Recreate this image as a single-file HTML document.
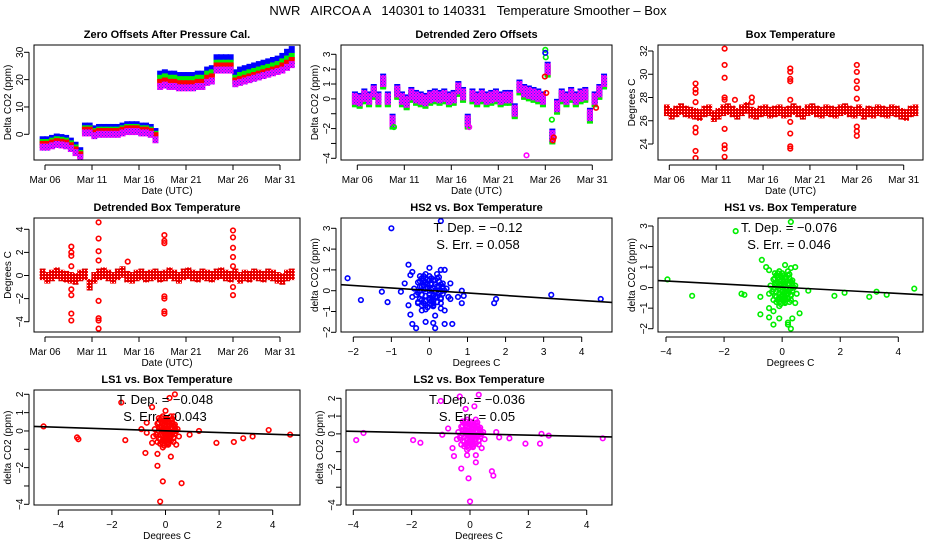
<!DOCTYPE html>
<html><head><meta charset="utf-8">
<style>
html,body{margin:0;padding:0;background:#fff;}
svg{display:block;font-family:"Liberation Sans",Arial,sans-serif;}
</style></head>
<body>
<svg id="chart" width="936" height="540" viewBox="0 0 936 540" xmlns="http://www.w3.org/2000/svg">
<defs>
<pattern id="magpat" width="3" height="3" patternUnits="userSpaceOnUse"><rect width="3" height="3" fill="#ff00ff"/><rect width="1" height="1" fill="#3030ff"/><rect x="1.5" y="1.5" width="1" height="1" fill="#3030ff"/></pattern>
<pattern id="redpat" width="3" height="3" patternUnits="userSpaceOnUse"><rect width="3" height="3" fill="#ff0000"/><rect width="1" height="1" fill="#ffffff"/><rect x="1.5" y="1.5" width="1" height="1" fill="#600000"/></pattern>
</defs>
<text x="468" y="15" font-size="13" text-anchor="middle" xml:space="preserve">NWR   AIRCOA A   140301 to 140331   Temperature Smoother – Box</text>
</svg>
<script>
// ---------- data ----------
const days = [5.75,6.25,6.75,7.25,7.75,8.25,8.75,9.25,9.75,10.25,10.75,11.25,11.75,12.25,12.75,13.25,13.75,14.25,14.75,15.25,15.75,16.25,16.75,17.25,17.75,18.25,18.75,19.25,19.75,20.25,20.75,21.25,21.75,22.25,22.75,23.25,23.75,24.25,24.75,25.25,25.75,26.25,26.75,27.25,27.75,28.25,28.75,29.25,29.75,30.25,30.75,31.25,31.75,32.25];
const dateTicks = [6,11,16,21,26,31];
const dateTickLabels = ["Mar 06","Mar 11","Mar 16","Mar 21","Mar 26","Mar 31"];

const zeroBlue = [-2,-2,-1.5,-1,-1.2,-1.5,-2.5,-4,-6, 3,3,2,2.5,2.5,2.5,2.5,2.5,3,3.5,3.5,3.5,3,3,2.5,1, 22,22.5,22,22,21.5,21.5,21.5,21.5,22,22,23.5,24, 28,28,28,28, 22.5,23.5,24,24.5,25,25.5,26,26.5,27,27.5,28.5,30,31];
const zeroGreen = [-3,-3,-2.5,-2,-2.2,-2.5,-3.5,-5,-7, 2,2,1,1.5,1.5,1.5,1.5,1.5,2,2.5,2.5,2.5,2,2,1.5,0, 20.5,21,20.5,20.5,20,20,20,20,20.5,20.5,22,22.5, 26,26,26,26, 20.5,21.5,22,22.5,23,23.5,24,24.5,25,25.5,26.5,27.5,28.5];
const zeroRed = [-3.7,-3.7,-3.2,-2.7,-2.9,-3.2,-4.2,-5.7,-7.5, 1.5,1.5,0.5,1,1,1,1,1,1.5,2,2,2,1.5,1.5,1,-0.5, 19,19.5,19,19,18.5,18.5,18.5,18.5,19,19,20.5,21, 25,25,25,25, 19.5,20,20.5,21,21.5,22,22.5,23,23.5,24,25,26,27];
const zeroMag = [-4.7,-4.7,-4.2,-3.7,-3.9,-4.2,-5.2,-6.7,-8.5, 0.5,0.5,-0.5,0,0,0,0,0,0.5,1,1,1,0.5,0.5,0,-2, 17.5,18,17.5,17.5,17,17,17,17,17.5,17.5,19,19.5, 23.5,23.5,23.5,23.5, 18.5,19,19.5,20,20.5,21,21.5,22,22.5,23,23.5,24.5,25.5];

const detMag = [0,-0.1,0.2,0,0.5,0,1.2,0,-1.5,0.5,0,-0.2,0.3,0.1,0,-0.1,0.1,0.2,0.1,0.2,0,0.1,0.7,0.3,-1.5,0.2,0,0.2,0,0.1,0.2,0,0.1,0.1,-0.8,0.8,0.5,0.4,0.3,0.2,0,2,-2.5,-0.5,0.2,0,0.3,0,0.2,0.3,-1.1,0,0.5,1.2];
const detSpikeDay = [26.0,26.05,25.95,26.7,26.8,26.9,24.0,26.1,31.4,9.9,17.9,26.0];
const detSpikeVal = [3.3,2.8,1.5,-1.4,-2.8,-2.6,-3.8,0.4,-0.6,-1.9,-1.9,3.1];
const detSpikeColor = ["#00ee00","#00ee00","#ff0000","#00ee00","#ff0000","#ff0000","#ff00ff","#ff0000","#ff0000","#00ee00","#ff00ff","#0000ff"];

const boxTemp = [26.9,26.6,26.8,27.0,26.8,26.7,26.6,26.5,26.8,26.9,26.4,26.6,26.9,27.0,26.8,26.6,26.9,27.1,26.7,26.6,26.8,26.9,26.7,26.8,26.9,26.7,26.8,27.0,26.8,26.6,26.9,27.0,26.8,26.7,26.9,26.8,26.7,26.9,27.0,26.8,26.7,26.9,26.6,26.8,26.7,26.9,26.8,26.7,26.9,26.8,26.6,26.5,26.8,26.9];
const boxSpikeDay = [8.8,8.8,8.8,8.8,8.8,8.8,8.8,8.8, 11.9,11.9,11.9,11.9,11.9,11.9,11.9,11.9,11.9, 18.9,18.9,18.9,18.9,18.9,18.9,18.9,18.9,18.9, 26.0,26.0,26.0,26.0,26.0,26.0,26.0,26.0, 13.0,14.8,14.8];
const boxSpikeVal = [29.2,28.7,28.4,27.6,25.4,25.0,23.4,22.8, 32.2,30.8,29.7,28.0,27.8,25.3,23.9,23.6,22.9, 30.5,30.2,29.6,29.4,27.8,25.9,24.9,23.8,23.6, 30.8,30.2,29.4,28.8,27.9,25.5,25.1,24.7, 27.8,28.0,27.6];

const detBox = [0.1,-0.2,0,0.2,0,-0.1,-0.2,-0.3,0,0.1,-0.8,-0.2,0.1,0.2,0,-0.2,0.1,0.3,-0.1,-0.2,0,0.1,-0.1,0,0.1,-0.1,0,0.2,0,-0.2,0.1,0.2,0,-0.1,0.1,0,-0.1,0.1,0.2,0,-0.1,0.1,-0.2,0,-0.1,0.1,0,-0.1,0.1,0,-0.2,-0.3,0,0.1];
const detBoxSpikeDay = [8.8,8.8,8.8,8.8,8.8,8.8,8.8,8.8, 11.7,11.7,11.7,11.7,11.7,11.7,11.7,11.7, 18.7,18.7,18.7,18.7,18.7,18.7,18.7, 26.0,26.0,26.0,26.0,26.0,26.0,26.0, 14.8];
const detBoxSpikeVal = [2.5,2.0,1.7,0.8,-1.2,-1.7,-3.3,-3.9, 4.6,3.2,2.1,1.3,-2.2,-3.7,-3.9,-4.6, 3.5,3.0,2.8,-1.8,-2.0,-3.1,-3.3, 3.9,3.3,2.4,1.6,0.8,-1.0,-1.7, 1.2];

const clusterX = [-0.4,-0.3,-0.2,-0.1,0,0.1,0.2,0.3,0.4,-0.35,-0.25,-0.15,-0.05,0.05,0.15,0.25,0.35,0.45,-0.3,-0.2,-0.1,0,0.1,0.2,0.3,-0.2,-0.1,0,0.1,0.2,-0.45,0.5,-0.1,0.05,0.15,-0.25,0.25,0,-0.05,0.1];
const clusterY = [0.1,0.4,0.6,0.8,0.7,0.5,0.6,0.3,0,-0.2,-0.4,-0.6,-0.8,-0.5,-0.3,-0.1,0.2,0.1,-0.1,0.2,0.4,0,-0.2,0.2,-0.4,-0.7,0.1,0.5,-0.6,0.8,-0.3,-0.3,-0.9,0.3,0.0,0.7,0.45,-0.35,0.15,-0.75];
const coreX = [-0.25,-0.15,-0.05,0.05,0.15,0.25,0.35,-0.25,-0.15,-0.05,0.05,0.15,0.25,0.35,-0.25,-0.15,-0.05,0.05,0.15,0.25,0.35,-0.2,-0.1,0,0.1,0.2,0.3,-0.2,-0.1,0,0.1,0.2,0.3,-0.3,-0.1,0.1,0.3,-0.15,0.05,0.25];
const coreY = [0.45,0.5,0.55,0.6,0.5,0.45,0.35,0.2,0.25,0.3,0.35,0.3,0.2,0.1,0,0.05,0.1,0.05,-0.05,-0.1,-0.15,-0.2,-0.25,-0.2,-0.25,-0.3,-0.35,-0.45,-0.5,-0.45,-0.5,-0.55,-0.6,-0.6,-0.7,-0.7,-0.05,0.7,-0.65,0.65];

const hs2X = [-2.15,-1.8,-1.25,-1.1,-1.0,0.3,-0.75,-0.65,-0.55,-0.5,-0.45,-0.55,-0.5,-0.45,-0.35,-0.1,0.1,0.15,0.4,0.6,0.15,0.3,0.4,0.55,0.75,0.85,0.85,0.9,1.7,1.75,3.2,4.5,0.3,0.4,0,0.55,-0.3,-0.2];
const hs2Y = [0.6,-0.45,-0.05,-0.55,3.0,3.35,-0.05,0.35,1.25,0.75,0.9,-0.7,-1.15,-1.6,-1.8,-1.5,-1.55,-1.8,-1.6,-1.6,-1.2,-0.85,-0.95,-0.4,-0.3,-0.6,0,-0.25,-0.6,-0.4,-0.2,-0.4,1.0,1.0,1.1,0.35,-0.55,-0.95];
const hs1X = [-3.95,-3.1,-1.6,0.3,-1.4,-1.3,-0.7,-0.55,-0.45,-0.75,-0.75,-0.45,-0.45,-0.3,-0.3,-0.1,0.2,0.2,0.3,0.35,0.6,0.25,0.45,0.1,0.3,0.45,0.9,1.8,2.15,3.0,3.25,3.6,4.55];
const hs1Y = [0.4,-0.4,2.75,3.2,-0.3,-0.35,1.35,1.0,0.85,-0.45,-1.3,-1.0,-1.45,-1.8,-1.15,-1.5,-1.7,-1.8,-2.0,-1.5,-1.25,-0.7,-0.75,1.1,0.95,1.0,-0.15,-0.4,-0.25,-0.45,-0.2,-0.35,-0.05];
const ls1X = [-4.55,-3.3,-3.25,-1.65,-1.5,-0.9,-0.7,-0.7,-0.5,-0.75,-0.3,-0.3,-0.1,-0.2,0.6,0.2,-0.5,0.15,0.35,0,0.3,0.4,0.9,1.25,1.9,2.55,2.9,3.25,3.85,4.65];
const ls1Y = [0.25,-0.35,-0.45,1.55,-0.5,0.1,0.45,-0.1,-0.65,-1.2,-1.25,-1.9,-2.75,-3.85,-2.85,-1.4,1.3,1.8,2.0,1.1,0.8,-0.75,-0.2,0,-0.65,-0.6,-0.4,-0.3,0.05,-0.2];
const ls2X = [-3.9,-3.65,-1.95,-1.7,-0.95,-1.0,-0.75,-0.6,-0.55,-0.3,-0.1,-0.05,0,0.2,0.2,0.4,0.75,0.8,-0.35,-0.15,0.15,0.3,0.9,1.35,1.9,2.4,2.45,2.7,4.55,1.0];
const ls2Y = [-0.35,0.05,-0.35,-0.5,-0.05,1.85,0.3,-0.8,-1.25,-1.95,-1.2,-2.5,-3.8,-1.6,-1.2,-0.8,-2.1,-2.35,2.1,1.4,1.55,2.2,0.1,-0.25,-0.55,-0.55,0,-0.1,-0.25,-0.2];

const slopes = [-0.12,-0.076,-0.048,-0.036];
const intercepts = [0.01,0.02,0.01,0.0];
const statLabels = [["T. Dep. =  \u22120.12","S. Err. =  0.058"],["T. Dep. =  \u22120.076","S. Err. =  0.046"],["T. Dep. =  \u22120.048","S. Err. =  0.043"],["T. Dep. =  \u22120.036","S. Err. =  0.05"]];

// ---------- helpers ----------
const NS = "http://www.w3.org/2000/svg";
const svg = document.getElementById("chart");
function el(tag, attrs, parent){ const e=document.createElementNS(NS,tag); for(const k in attrs) e.setAttribute(k,attrs[k]); (parent||svg).appendChild(e); return e; }
function lin(v1,p1,v2,p2){ return v => p1 + (v-v1)*(p2-p1)/(v2-v1); }

function panel(name, box, xs, ys, opt){
  const g = el("g",{});
  
  
  const clip = el("clipPath",{id:"clip-"+name},g);
  el("rect",{x:box.l,y:box.t,width:box.r-box.l,height:box.b-box.t},clip);
  const plot = el("g",{"clip-path":"url(#clip-"+name+")"},g);
  
  
  const frame = el("rect",{x:box.l,y:box.t,width:box.r-box.l,height:box.b-box.t,fill:"none",stroke:"#000","stroke-width":1},g);
  
  
  const t = el("text",{x:(box.l+box.r)/2,y:box.t-7,"font-size":11,"font-weight":"bold","text-anchor":"middle"},g);
  t.textContent = opt.title;
  
  
  const xa = el("g",{},g);
  
  
  const xt = opt.xTicks;
  el("line",{x1:xs(xt[0]),x2:xs(xt[xt.length-1]),y1:box.b+5,y2:box.b+5,stroke:"#000"},xa);
  xt.forEach((v,i)=>{
    el("line",{x1:xs(v),x2:xs(v),y1:box.b+5,y2:box.b+10,stroke:"#000"},xa);
    const lab = opt.xLabels[i];
    if(lab!==""){ const tx=el("text",{x:xs(v),y:box.b+23,"font-size":10,"text-anchor":"middle"},xa); tx.textContent=lab;
      
       }
  });
  const xtt = el("text",{x:(box.l+box.r)/2,y:box.b+34,"font-size":10,"text-anchor":"middle"},g);
  xtt.textContent = opt.xTitle;
  
  
  const ya = el("g",{},g);
  
  
  const yt = opt.yTicks;
  el("line",{x1:box.l-5,x2:box.l-5,y1:ys(yt[0]),y2:ys(yt[yt.length-1]),stroke:"#000"},ya);
  yt.forEach((v,i)=>{
    el("line",{x1:box.l-10,x2:box.l-5,y1:ys(v),y2:ys(v),stroke:"#000"},ya);
    const lab = opt.yLabels[i];
    if(lab!==""){ const x0=box.l-11, y0=ys(v);
      const tx=el("text",{x:x0,y:y0,"font-size":10,"text-anchor":"middle",transform:"rotate(-90 "+x0+" "+y0+")"},ya); tx.textContent=lab;
      
       }
  });
  const yx = box.l-23, yy=(box.t+box.b)/2;
  const ytt = el("text",{x:yx,y:yy,"font-size":10,"text-anchor":"middle",transform:"rotate(-90 "+yx+" "+yy+")"},g);
  ytt.textContent = opt.yTitle;
  
  
  return plot;
}
function circ(parent, cx, cy, color, name){
  const c = el("circle",{cx:cx,cy:cy,r:2.3,fill:"none",stroke:color,"stroke-width":1.6},parent);
  
  
}
function fmtNeg(v){ return v<0 ? "\u2212"+(-v) : String(v); }

// ---------- panel 1 ----------
{
  const box={l:34,r:300,t:45,b:160};
  const xs=lin(6,45,31,280), ys=lin(0,134.3,30,52.3);
  const p=panel("zero-offsets-panel",box,xs,ys,{title:"Zero Offsets After Pressure Cal.",xTicks:dateTicks,xLabels:dateTickLabels,xTitle:"Date (UTC)",yTicks:[0,10,20,30],yLabels:["0","10","20","30"],yTitle:"Delta CO2 (ppm)"});
  [[zeroBlue,"#0000ff","blue"],[zeroGreen,"#00ee00","green"],[zeroRed,"#ff0000","red"],[zeroMag,"url(#magpat)","magenta"]].forEach(([arr,col,nm])=>{
    arr.forEach((v,i)=>{
      const r=el("rect",{x:xs(days[i])-3,y:ys(v)-3.5,width:6,height:7,fill:col},p);
      
      
    });
  });
}
// ---------- panel 2 ----------
{
  const box={l:341,r:612,t:45,b:160};
  const xs=lin(6,357.3,31,592.3), ys=lin(3,54.3,-4,158.3);
  const p=panel("detrended-zero-panel",box,xs,ys,{title:"Detrended Zero Offsets",xTicks:dateTicks,xLabels:dateTickLabels,xTitle:"Date (UTC)",yTicks:[-4,-3,-2,-1,0,1,2,3],yLabels:["\u22124","","\u22122","","0","1","2","3"],yTitle:"Delta CO2 (ppm)"});
  const h = Math.abs(ys(0.4)-ys(-0.4));
  [["#ff0000",1.5,"red"],["#00ee00",2.5,"green"],["#0000ff",-1.5,"blue"],["url(#magpat)",0,"magenta"]].forEach(([col,off,nm])=>{
    detMag.forEach((v,i)=>{
      const r=el("rect",{x:xs(days[i])-3,y:ys(v)-h/2+off,width:6,height:h,fill:col},p);
      
      
    });
  });
  detSpikeDay.forEach((d,i)=>circ(p,xs(d),ys(detSpikeVal[i]),detSpikeColor[i],"detrended-zero-spike"));
}
// ---------- panel 3 ----------
{
  const box={l:658,r:923,t:45,b:160};
  const xs=lin(6,669.3,31,903.7), ys=lin(32,51,24,144);
  const p=panel("box-temperature-panel",box,xs,ys,{title:"Box Temperature",xTicks:dateTicks,xLabels:dateTickLabels,xTitle:"Date (UTC)",yTicks:[24,26,28,30,32],yLabels:["24","26","28","30","32"],yTitle:"Degrees C"});
  const h = Math.abs(ys(0.5)-ys(-0.5));
  boxTemp.forEach((v,i)=>{
    const r=el("rect",{x:xs(days[i])-3,y:ys(v)-h/2,width:6,height:h,fill:"url(#redpat)"},p);
    
    
  });
  boxSpikeDay.forEach((d,i)=>circ(p,xs(d),ys(boxSpikeVal[i]),"#ff0000","box-temperature-spike"));
}
// ---------- panel 4 ----------
{
  const box={l:34,r:300,t:218,b:332};
  const xs=lin(6,45,31,280), ys=lin(4,229.3,-4,321.7);
  const p=panel("detrended-box-panel",box,xs,ys,{title:"Detrended Box Temperature",xTicks:dateTicks,xLabels:dateTickLabels,xTitle:"Date (UTC)",yTicks:[-4,-2,0,2,4],yLabels:["\u22124","\u22122","0","2","4"],yTitle:"Degrees C"});
  const h = Math.abs(ys(0.5)-ys(-0.5));
  detBox.forEach((v,i)=>{
    const r=el("rect",{x:xs(days[i])-3,y:ys(v)-h/2,width:6,height:h,fill:"url(#redpat)"},p);
    
    
  });
  detBoxSpikeDay.forEach((d,i)=>circ(p,xs(d),ys(detBoxSpikeVal[i]),"#ff0000","detrended-box-spike"));
}
// ---------- scatter panels ----------
function scatter(name,title,box,xs,ys,xTicks,yTicks,yLabels,xdat,ydat,color,k,textX,textY){
  const p=panel(name,box,xs,ys,{title:title,xTicks:xTicks,xLabels:xTicks.map(fmtNeg),xTitle:"Degrees C",yTicks:yTicks,yLabels:yLabels,yTitle:"delta CO2 (ppm)"});
  clusterX.forEach((x,i)=>circ(p,xs(x),ys(clusterY[i]),color,name+"-cluster-point"));
  coreX.forEach((x,i)=>circ(p,xs(x),ys(coreY[i]),color,name+"-core-point"));
  xdat.forEach((x,i)=>circ(p,xs(x),ys(ydat[i]),color,name+"-point"));
  const x0=-6,x1=6;
  const ln=el("line",{x1:xs(x0),y1:ys(intercepts[k]+slopes[k]*x0),x2:xs(x1),y2:ys(intercepts[k]+slopes[k]*x1),stroke:"#000","stroke-width":1.6},p);
  
  
  statLabels[k].forEach((s,j)=>{
    const t=el("text",{x:textX,y:textY+j*17,"font-size":13,"text-anchor":"middle","xml:space":"preserve"});
    t.textContent=s;
    
    
  });
}
scatter("hs2-scatter-panel","HS2 vs. Box Temperature",{l:341,r:612,t:218,b:332},lin(-2,353.3,4,581.7),lin(3,228.3,-2,332.3),[-2,-1,0,1,2,3,4],[-2,-1,0,1,2,3],["\u22122","\u22121","0","1","2","3"],hs2X,hs2Y,"#0000ff",0,478,232);
scatter("hs1-scatter-panel","HS1 vs. Box Temperature",{l:658,r:923,t:218,b:332},lin(-4,666,4,898.3),lin(3,226,-2,328.7),[-4,-2,0,2,4],[-2,-1,0,1,2,3],["\u22122","\u22121","0","1","2","3"],hs1X,hs1Y,"#00ee00",1,789,232);
scatter("ls1-scatter-panel","LS1 vs. Box Temperature",{l:34,r:300,t:390,b:505},lin(-4,58.3,4,272.7),lin(2,394.3,-4,504.3),[-4,-2,0,2,4],[-4,-3,-2,-1,0,1,2],["\u22124","","\u22122","","0","1","2"],ls1X,ls1Y,"#ff0000",2,165,404);
scatter("ls2-scatter-panel","LS2 vs. Box Temperature",{l:346,r:612,t:390,b:505},lin(-4,353.3,4,586.7),lin(2,398.3,-4,505),[-4,-2,0,2,4],[-4,-3,-2,-1,0,1,2],["\u22124","","\u22122","","0","1","2"],ls2X,ls2Y,"#ff00ff",3,477,404);
</script>
</body></html>
